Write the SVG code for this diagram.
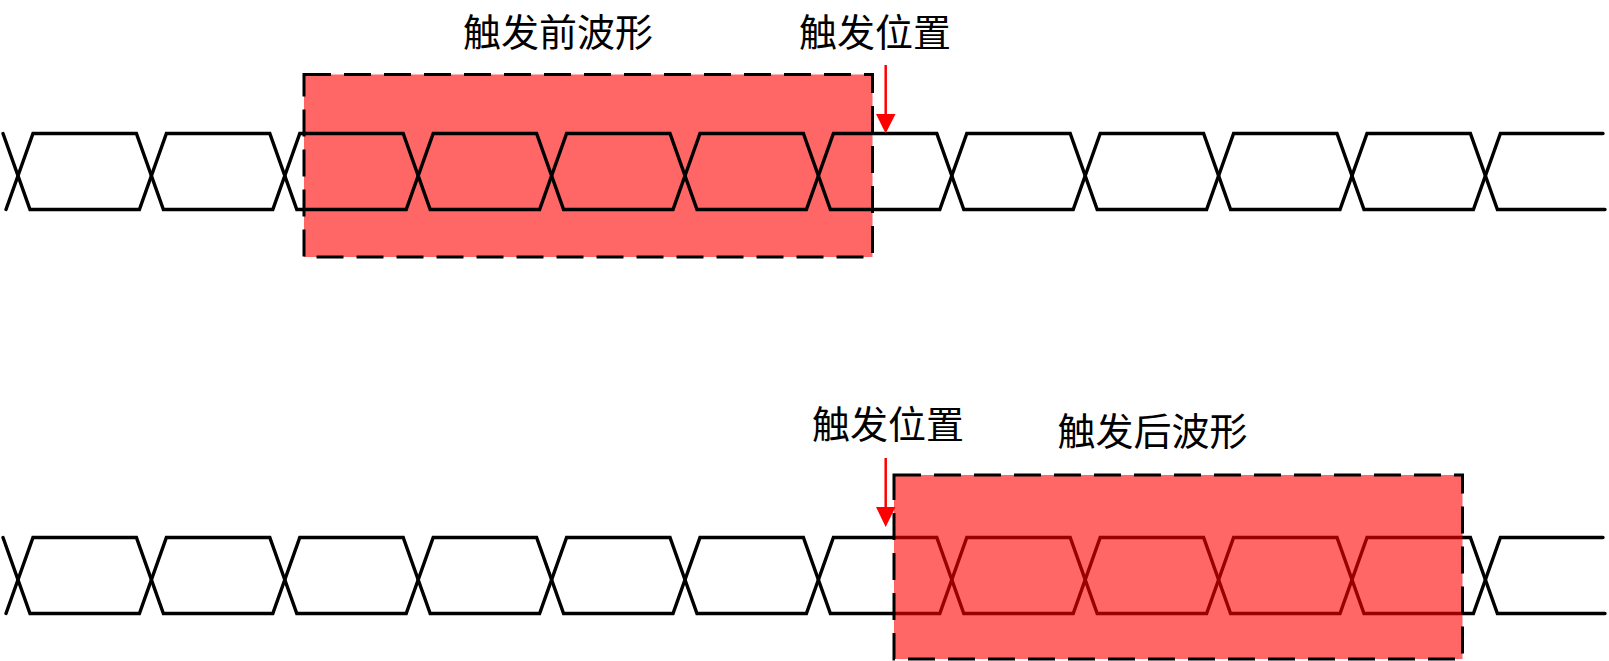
<svg xmlns="http://www.w3.org/2000/svg" xmlns:xlink="http://www.w3.org/1999/xlink" width="1609" height="661" viewBox="0 0 1609 661">
<style>
.wave{fill:none;stroke:#000;stroke-width:3.4;stroke-linejoin:miter;stroke-linecap:round}
.border{fill:none;stroke:#000;stroke-width:3;stroke-dasharray:27 13}
.lbl{font-family:"Noto Sans CJK SC","Noto Sans",sans-serif;font-size:38px;fill:#000;text-anchor:middle}
.arr{stroke:#FF0000;stroke-width:2.5;fill:none}
.head{fill:#FF0000}
</style>
<defs>
<g id="wave">
<path class="wave" d="M3,133.5 L30,209.5 L139.4,209.5 L166.4,133.5 L269.8,133.5 L296.8,209.5 L406.2,209.5 L433.2,133.5 L536.6,133.5 L563.6,209.5 L673,209.5 L700,133.5 L803.4,133.5 L830.4,209.5 L939.8,209.5 L966.8,133.5 L1070.2,133.5 L1097.2,209.5 L1206.6,209.5 L1233.6,133.5 L1337,133.5 L1364,209.5 L1473.4,209.5 L1500.4,133.5 L1603,133.5"/>
<path class="wave" d="M6,209.5 L33,133.5 L136.4,133.5 L163.4,209.5 L272.8,209.5 L299.8,133.5 L403.2,133.5 L430.2,209.5 L539.6,209.5 L566.6,133.5 L670,133.5 L697,209.5 L806.4,209.5 L833.4,133.5 L936.8,133.5 L963.8,209.5 L1073.2,209.5 L1100.2,133.5 L1203.6,133.5 L1230.6,209.5 L1340,209.5 L1367,133.5 L1470.4,133.5 L1497.4,209.5 L1605,209.5"/>
</g>
</defs>
<g id="pre-trigger-window">
<rect x="304" y="74.5" width="568.5" height="182.5" fill="#FF6666"/>
</g>
<g id="waveform-top">
<use xlink:href="#wave" href="#wave"/>
</g>
<g id="pre-trigger-border">
<rect class="border" x="304" y="74.5" width="568.5" height="182.5"/>
</g>
<g id="waveform-bottom">
<use xlink:href="#wave" href="#wave" transform="translate(0,404)"/>
</g>
<g id="post-trigger-window">
<rect x="894" y="475" width="568.5" height="184" fill="#FF0000" fill-opacity="0.6"/>
<rect class="border" x="894" y="475" width="568.5" height="184"/>
</g>
<g id="label-pre"><text class="lbl" x="558" y="46">触发前波形</text></g>
<g id="label-trigger-top"><text class="lbl" x="875" y="46">触发位置</text></g>
<g id="label-trigger-bottom"><text class="lbl" x="888" y="437.5">触发位置</text></g>
<g id="label-post"><text class="lbl" x="1152.5" y="444.5">触发后波形</text></g>
<g id="connectors">
<line class="arr" x1="885.7" y1="65" x2="885.7" y2="115"/>
<polygon class="head" points="876,114 895.5,114 885.7,133.5"/>
<line class="arr" x1="885.7" y1="458" x2="885.7" y2="508"/>
<polygon class="head" points="876,507 895.5,507 885.7,527"/>
</g>
</svg>
